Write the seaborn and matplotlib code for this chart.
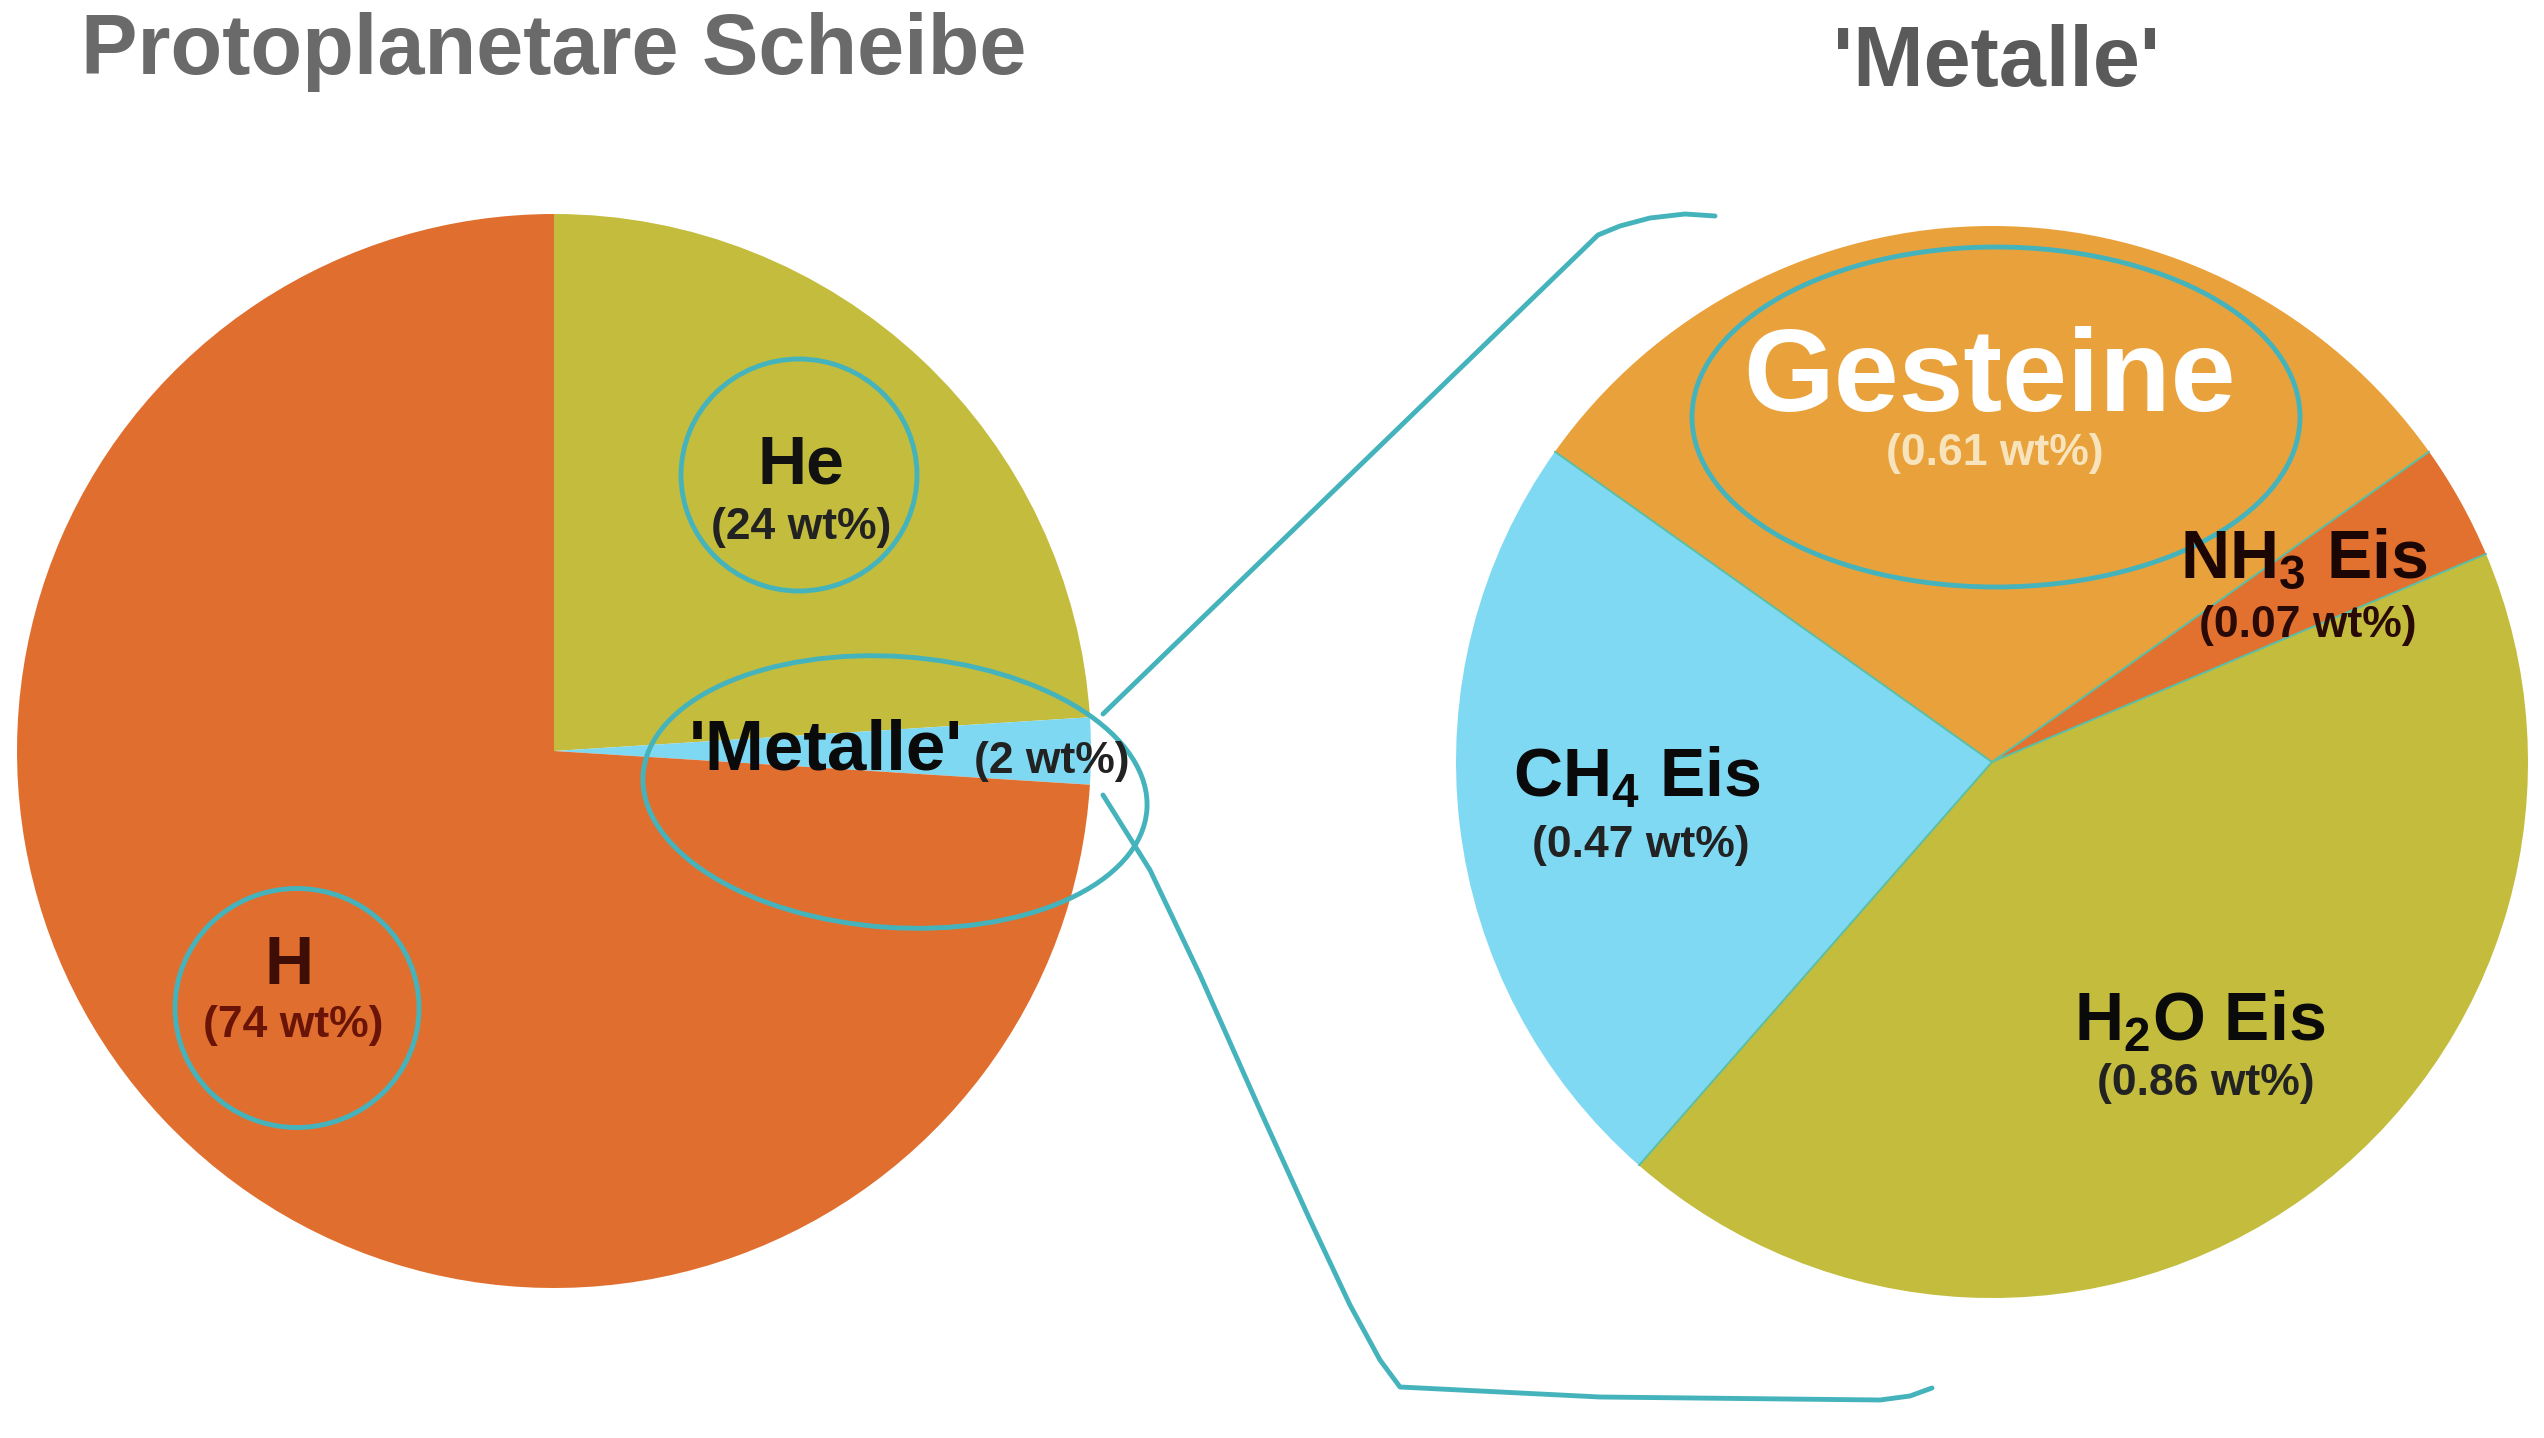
import matplotlib
matplotlib.use("Agg")
import matplotlib.pyplot as plt
from matplotlib.patches import Ellipse
import seaborn as sns

# Protoplanetare Scheibe (wt%)
disk_names = ["He", "'Metalle'", "H"]
disk_values = [24, 2, 74]
disk_colors = ["#C3BC3D", "#7FD8F2", "#E06F2F"]

# Zusammensetzung der 'Metalle' (wt%)
metal_names = [r"H$_\mathbf{2}$O Eis", r"NH$_\mathbf{3}$ Eis", "Gesteine", r"CH$_\mathbf{4}$ Eis"]
metal_values = [0.86, 0.07, 0.61, 0.47]
metal_colors = ["#C3BC3D", "#E2702E", "#E9A23B", "#80D9F3"]

sns.set_theme(style="white")
plt.rcParams["font.family"] = ["Liberation Sans", "DejaVu Sans"]
plt.rcParams["mathtext.fontset"] = "custom"
plt.rcParams["mathtext.rm"] = "Liberation Sans"
plt.rcParams["mathtext.bf"] = "Liberation Sans:bold"

W, H = 2544, 1438
fig = plt.figure(figsize=(W / 100, H / 100), dpi=100)
ax = fig.add_axes([0, 0, 1, 1])


def Y(y):
    # pixel rows counted from the top
    return H - y


ax.pie(disk_values, colors=disk_colors, startangle=90, counterclock=False,
       center=(554, Y(751)), radius=537, wedgeprops=dict(linewidth=0))

gest_mid = sum(metal_values[:2]) + metal_values[2] / 2
start = 90 - 360 * gest_mid / sum(metal_values)
wedges, _ = ax.pie(metal_values, colors=metal_colors, startangle=start,
                   counterclock=True, center=(1992, Y(762)), radius=536,
                   wedgeprops=dict(linewidth=0))
# thin teal seams between the slices
for w in wedges:
    cx, cy = w.center
    for th in (w.theta1, w.theta2):
        import numpy as np
        t = np.deg2rad(th)
        ax.plot([cx, cx + w.r * np.cos(t)], [cy, cy + w.r * np.sin(t)],
                color="#5DBFA4", linewidth=1.2)

ax.set_xlim(0, W)
ax.set_ylim(0, H)
ax.set_aspect("equal", adjustable="box")
ax.axis("off")

# titles
ax.text(554, Y(52), "Protoplanetare Scheibe", ha="center", va="center",
        fontsize=61, fontweight="bold", color="#6a6a6a")
ax.text(1996, Y(64), "'Metalle'", ha="center", va="center",
        fontsize=61, fontweight="bold", color="#5a5a5a")

# labels left pie
def pct(v):
    return f"({v:g} wt%)"

ax.text(801, Y(466), disk_names[0], ha="center", va="center",
        fontsize=49, fontweight="bold", color="#111111")
ax.text(801, Y(528), pct(disk_values[0]), ha="center", va="center",
        fontsize=32, fontweight="bold", color="#222222")
ax.text(826, Y(752), disk_names[1], ha="center", va="center",
        fontsize=51, fontweight="bold", color="#0a0a0a")
ax.text(1052, Y(762), pct(disk_values[1]), ha="center", va="center",
        fontsize=32, fontweight="bold", color="#222222")
ax.text(289, Y(966), disk_names[2], ha="center", va="center",
        fontsize=49, fontweight="bold", color="#3d0d06")
ax.text(293, Y(1026), pct(disk_values[2]), ha="center", va="center",
        fontsize=32, fontweight="bold", color="#6a1408")

# labels right pie
ax.text(1990, Y(380), metal_names[2], ha="center", va="center",
        fontsize=84, fontweight="bold", color="white")
ax.text(1995, Y(454), pct(metal_values[2]), ha="center", va="center",
        fontsize=32, fontweight="bold", color="#F8E4BC")
ax.text(2304, Y(560), metal_names[1], ha="center", va="center",
        fontsize=49, fontweight="bold", color="#1c0604")
ax.text(2308, Y(625), pct(metal_values[1]), ha="center", va="center",
        fontsize=32, fontweight="bold", color="#2a0a06")
ax.text(1637, Y(778), metal_names[3], ha="center", va="center",
        fontsize=49, fontweight="bold", color="#0a0a0a")
ax.text(1641, Y(845), pct(metal_values[3]), ha="center", va="center",
        fontsize=32, fontweight="bold", color="#222222")
ax.text(2200, Y(1022), metal_names[0], ha="center", va="center",
        fontsize=49, fontweight="bold", color="#0a0a0a")
ax.text(2206, Y(1084), pct(metal_values[0]), ha="center", va="center",
        fontsize=32, fontweight="bold", color="#222222")

# hand drawn marks (pen annotations)
pen = "#45B3BC"
for cx, cy, w, h, ang in [(799, 475, 236, 232, 0), (895, 792, 505, 271, -4),
                          (297, 1008, 244, 239, 0), (1996, 417, 608, 340, 0)]:
    ax.add_patch(Ellipse((cx, Y(cy)), w, h, angle=ang, fill=False,
                         edgecolor=pen, linewidth=3.5))

up_x = [1103, 1598, 1620, 1650, 1685, 1715]
up_y = [714, 235, 226, 218, 214, 216]
ax.plot(up_x, [Y(v) for v in up_y], color=pen, linewidth=3.5,
        solid_capstyle="round", solid_joinstyle="round")
lo_x = [1103, 1150, 1200, 1260, 1310, 1350, 1380, 1400, 1600, 1880, 1910, 1932]
lo_y = [795, 870, 975, 1110, 1220, 1305, 1360, 1387, 1397, 1400, 1396, 1388]
ax.plot(lo_x, [Y(v) for v in lo_y], color=pen, linewidth=3.5,
        solid_capstyle="round", solid_joinstyle="round")

fig.savefig("out.png", dpi=100, facecolor="white")
